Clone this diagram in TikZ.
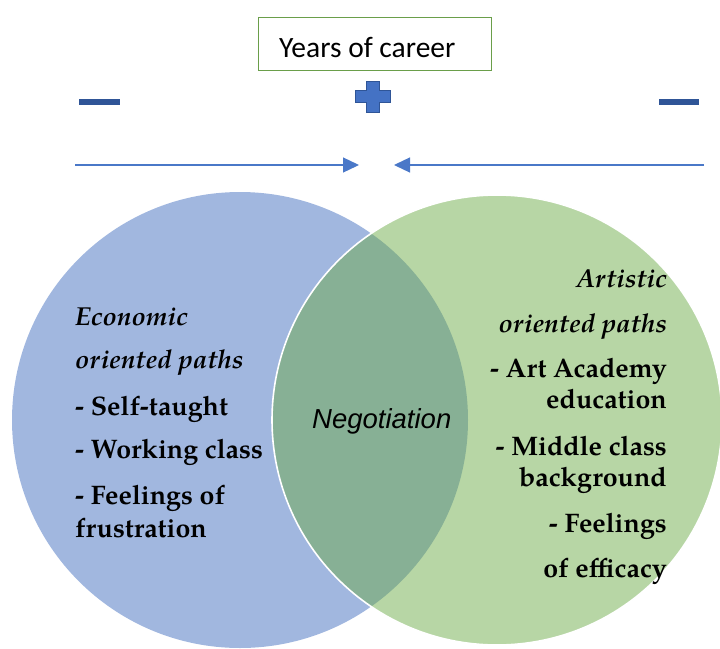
\documentclass[tikz,border=0pt]{standalone}
\usepackage{fontspec}
\usetikzlibrary{arrows.meta}
\newfontfamily\palfont{texgyrepagella}[Extension=.otf, UprightFont=*-regular, BoldFont=*-bold, ItalicFont=*-italic, BoldItalicFont=*-bolditalic]
\newfontfamily\carlitofont{Carlito}
\newfontfamily\negfont{Liberation Sans}
\definecolor{econblue}{HTML}{A1B7DF}
\definecolor{artgreen}{HTML}{B7D6A5}
\definecolor{lensgreen}{HTML}{87B095}
\definecolor{boxgreen}{HTML}{6A9E4A}
\definecolor{arrowblue}{HTML}{4A78C8}
\definecolor{signblue}{HTML}{2F5597}
\definecolor{plusfill}{HTML}{4472C4}
\begin{document}
\begin{tikzpicture}[x=1pt,y=-1pt,
  pathtext/.style={font=\palfont\itshape\fontsize{26}{30}\selectfont, inner sep=0pt},
  itemtext/.style={font=\palfont\bfseries\fontsize{26.8}{30}\selectfont, inner sep=0pt},
  flow/.style={draw=arrowblue, line width=1.3pt, -{Triangle[length=16pt,width=15pt]}},
  minus/.style={fill=signblue, draw=none}]
\useasboundingbox (0,0) rectangle (720,648);

% the two career paths and their overlap
\fill[econblue] (240,420) circle[radius=228];
\fill[artgreen] (497,420) circle[radius=225];
\begin{scope}
  \clip (240,420) circle[radius=228];
  \fill[lensgreen] (497,420) circle[radius=225];
\end{scope}
\draw[white, line width=1.6pt] (497,420) circle[radius=225];

% header box
\node[draw=boxgreen, line width=0.8pt, minimum width=233pt, minimum height=53pt,
      anchor=north west, inner sep=0pt] (box) at (258,17) {};
\node[anchor=base west, inner sep=0pt, font=\carlitofont\fontsize{29.5}{32}\selectfont] (yoc) at (279,57) {Years of career};

% plus and minus signs
\filldraw[fill=plusfill, draw=signblue, line width=0.8pt]
  (366,81) -- (379,81) -- (379,90) -- (390,90) -- (390,102) -- (379,102)
  -- (379,112) -- (366,112) -- (366,102) -- (355,102) -- (355,90) -- (366,90) -- cycle;
\fill[minus] (79,99) rectangle (120,104.5);
\fill[minus] (659,99) rectangle (699,104.5);

% arrows converging in the middle
\coordinate (lstart) at (75,165);
\coordinate (lend) at (359,165);
\coordinate (rstart) at (704,165);
\coordinate (rend) at (394,165);
\draw[flow] (lstart) -- (lend);
\draw[flow] (rstart) -- (rend);

% economic side
\node[pathtext, anchor=base west] (e1) at (75,325) {\textbf{Economic}};
\node[pathtext, anchor=base west] (e2) at (75,368) {\textbf{oriented paths}};
\node[itemtext, anchor=base west] (e3) at (75,415) {- Self-taught};
\node[itemtext, anchor=base west] (e4) at (75,458) {- Working class};
\node[itemtext, anchor=base west] (e5) at (75,504) {- Feelings of};
\node[itemtext, anchor=base west] (e6) at (75,537) {frustration};

% overlap
\node[anchor=base west, inner sep=0pt, font=\negfont\itshape\fontsize{27.5}{30}\selectfont] (neg) at (312,428) {Negotiation};

% artistic side
\node[pathtext, anchor=base east] (a1) at (667,287) {\textbf{Artistic}};
\node[pathtext, anchor=base east] (a2) at (667,332) {\textbf{oriented paths}};
\node[itemtext, anchor=base east] (a3) at (667,377) {- Art Academy};
\node[itemtext, anchor=base east] (a4) at (667,408) {education};
\node[itemtext, anchor=base east] (a5) at (667,455) {- Middle class};
\node[itemtext, anchor=base east] (a6) at (667,486) {background};
\node[itemtext, anchor=base east] (a7) at (667,532) {- Feelings};
\node[itemtext, anchor=base east] (a8) at (667,577) {of efficacy};
\end{tikzpicture}
\end{document}
